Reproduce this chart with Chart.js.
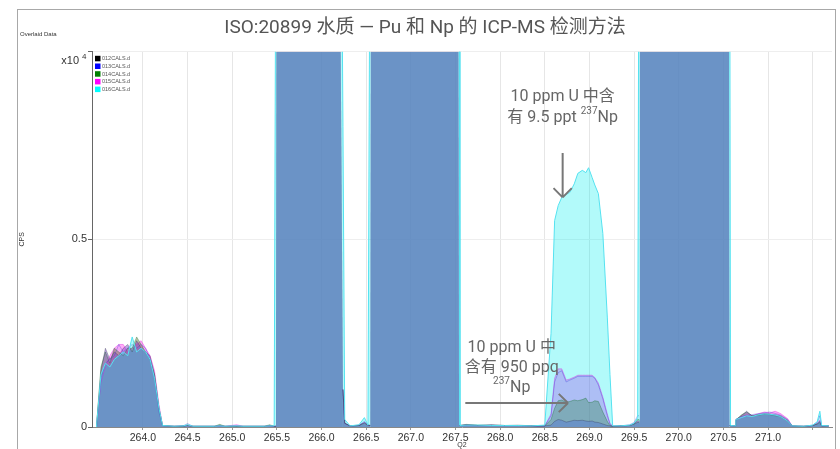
<!DOCTYPE html>
<html>
<head>
<meta charset="utf-8">
<script src="https://cdn.jsdelivr.net/npm/chart.js@4.4.1/dist/chart.umd.min.js"></script>
<style>
  html, body { margin: 0; padding: 0; background: #fff; }
</style>
</head>
<body>
<canvas id="chart" width="840" height="449"></canvas>
<script>
// Overlaid spectra, Q2 mass axis vs CPS (x10^4)
const OFF = 1.5; // U peaks run off the top of the scale

const q2 = [263.48, 263.53, 263.58, 263.63, 263.68, 263.73, 263.78, 263.83, 263.88, 263.93,
  263.98, 264.03, 264.08, 264.13, 264.18, 264.22, 264.35, 264.45, 264.50, 264.56,
  264.80, 264.86, 264.92, 265.05, 265.12, 265.36, 265.42, 265.47, 265.49, 265.50,
  266.20, 266.22, 266.24, 266.26, 266.32, 266.42, 266.48, 266.52, 266.545, 266.555,
  267.53, 267.54, 267.55, 267.62, 267.75, 267.90, 268.05, 268.20, 268.35, 268.50,
  268.57, 268.61, 268.65, 268.69, 268.74, 268.78, 268.83, 268.87, 268.92, 268.96,
  268.99, 269.03, 269.06, 269.10, 269.15, 269.20, 269.23, 269.26, 269.35, 269.45,
  269.50, 269.54, 269.555, 269.565, 270.56, 270.57, 270.58, 270.63, 270.64, 270.70,
  270.76, 270.82, 270.90, 270.96, 271.02, 271.08, 271.14, 271.22, 271.27, 271.40,
  271.50, 271.55, 271.58, 271.60, 271.68];

const cals012 = [0, .15, .21, .18, .20, .19, .21, .22, .20, .23,
  .21, .20, .19, .14, .05, .004, .002, .003, .004, .002,
  .002, .004, .002, .002, .002, .002, .004, .002, .002, OFF,
  OFF, .82, .10, .01, .003, .004, .012, .005, .004, OFF,
  OFF, .005, .004, .006, .004, .006, .004, .005, .003, .003,
  .005, .015, .02, .018, .013, .015, .018, .017, .018, .016,
  .015, .016, .013, .012, .008, .004, .003, .002, .003, .004,
  .008, .012, .012, OFF, OFF, .004, .004, .003, .02, .03,
  .042, .03, .034, .036, .035, .033, .03, .018, .003, .002,
  .004, .008, .015, .003, .003];

const cals013 = [0, .13, .17, .18, .19, .22, .20, .21, .22, .21,
  .22, .21, .18, .13, .04, .004, .002, .003, .009, .002,
  .002, .003, .002, .003, .002, .002, .003, .002, .002, OFF,
  OFF, .82, .10, .01, .003, .004, .015, .005, .004, OFF,
  OFF, .005, .004, .005, .004, .005, .004, .004, .003, .003,
  .03, .12, .145, .15, .12, .125, .13, .135, .135, .135,
  .135, .135, .13, .112, .075, .03, .008, .002, .003, .006,
  .012, .03, .03, OFF, OFF, .004, .004, .003, .02, .028,
  .03, .033, .036, .038, .04, .036, .032, .02, .003, .002,
  .005, .012, .03, .004, .003];

const cals014 = [0, .16, .20, .17, .21, .20, .19, .21, .21, .24,
  .22, .20, .18, .14, .05, .004, .002, .002, .005, .002,
  .002, .007, .002, .002, .002, .002, .006, .002, .002, OFF,
  OFF, .82, .10, .01, .003, .004, .01, .005, .004, OFF,
  OFF, .005, .004, .007, .005, .005, .004, .004, .003, .003,
  .02, .05, .07, .072, .066, .068, .072, .07, .073, .077,
  .065, .066, .07, .068, .04, .015, .004, .002, .003, .004,
  .008, .02, .02, OFF, OFF, .004, .004, .003, .018, .032,
  .04, .03, .032, .034, .033, .03, .028, .016, .003, .002,
  .004, .008, .012, .003, .003];

const cals015 = [0, .12, .16, .19, .21, .22, .22, .20, .21, .22,
  .23, .21, .19, .15, .06, .004, .002, .003, .004, .002,
  .002, .003, .002, .006, .002, .002, .003, .002, .002, OFF,
  OFF, .82, .10, .01, .003, .005, .012, .005, .004, OFF,
  OFF, .005, .004, .006, .004, .004, .004, .004, .003, .003,
  .035, .13, .155, .155, .125, .128, .133, .138, .138, .138,
  .138, .138, .132, .117, .08, .035, .01, .002, .003, .004,
  .01, .015, .015, OFF, OFF, .004, .004, .003, .02, .026,
  .032, .03, .036, .04, .038, .042, .036, .022, .003, .002,
  .004, .01, .018, .003, .003];

const cals016 = [0, .14, .17, .16, .18, .19, .20, .19, .24, .20,
  .21, .20, .18, .13, .05, .004, .002, .003, .006, .002,
  .002, .003, .002, .003, .002, .002, .003, .003, OFF, OFF,
  OFF, OFF, .80, .02, .003, .006, .025, .005, OFF, OFF,
  OFF, OFF, .004, .005, .005, .004, .004, .004, .003, .005,
  .25, .55, .59, .612, .62, .625, .648, .676, .684, .678,
  .691, .665, .645, .622, .516, .293, .14, .003, .003, .005,
  .01, .025, OFF, OFF, OFF, OFF, .004, .003, .02, .025,
  .03, .028, .033, .035, .034, .032, .028, .016, .003, .002,
  .005, .014, .042, .004, .003];

const seriesNames = ['012CALS.d', '013CALS.d', '014CALS.d', '015CALS.d', '016CALS.d'];
const seriesValues = [cals012, cals013, cals014, cals015, cals016];

// styling
const legendColors = ['#000000', '#0000ff', '#008000', '#ff00ff', '#00ffff'];
const lineColors = ['rgba(40,40,70,0.3)', 'rgba(60,60,220,0.35)', 'rgba(20,110,40,0.35)', 'rgba(220,0,220,0.35)', '#55e2f0'];
const fillColors = ['rgba(127,76,199,0.5)', 'rgba(0,0,255,0.03)', 'rgba(84,103,38,0.4)', 'rgba(255,0,230,0.32)', 'rgba(0,240,240,0.3)'];
const drawOrder = [1, 3, 2, 4, 0];

const FONT = 'Roboto, "Noto Sans CJK SC", sans-serif';
const AXFONT = '"Liberation Sans", Arial, sans-serif';

// annotations (data coordinates)
const notes = [
  { x: 268.70, y: [0.880, 0.824], lines: [
    [{ text: '10 ppm U 中含', size: 16 }],
    [{ text: '有 9.5 ppt ', size: 16 }, { text: '237', size: 10, dy: -6 }, { text: 'Np', size: 16 }]
  ] },
  { x: 268.13, y: [0.210, 0.158, 0.104], lines: [
    [{ text: '10 ppm U 中', size: 16 }],
    [{ text: '含有 950 ppq', size: 16 }],
    [{ text: '237', size: 10, dy: -6 }, { text: 'Np', size: 16 }]
  ] }
];
const arrows = [
  { from: [268.70, 0.73], to: [268.70, 0.612] },
  { from: [267.61, 0.064], to: [268.76, 0.064] }
];

function drawRich(ctx, parts, cx, cy) {
  let total = 0;
  const widths = parts.map(p => {
    ctx.font = p.size + 'px ' + FONT;
    const w = ctx.measureText(p.text).width;
    total += w;
    return w;
  });
  let x = cx - total / 2;
  ctx.textAlign = 'left';
  ctx.textBaseline = 'middle';
  parts.forEach((p, i) => {
    ctx.font = p.size + 'px ' + FONT;
    ctx.fillText(p.text, x, cy + (p.dy || 0));
    x += widths[i];
  });
}

const decor = {
  id: 'decor',
  beforeDraw(chart) {
    const ctx = chart.ctx;
    ctx.save();
    ctx.strokeStyle = '#a8a8a8';
    ctx.lineWidth = 1;
    ctx.strokeRect(17.5, 9.5, 818, 470);
    ctx.restore();
  },
  afterDraw(chart) {
    const ctx = chart.ctx;
    const xs = chart.scales.x, ys = chart.scales.y;
    const area = chart.chartArea;
    ctx.save();

    // header note
    ctx.fillStyle = '#333';
    ctx.font = '6px ' + AXFONT;
    ctx.textAlign = 'left';
    ctx.textBaseline = 'middle';
    ctx.fillText('Overlaid Data', 20, 34);

    // exponent for y axis
    ctx.font = '11px ' + AXFONT;
    ctx.textAlign = 'right';
    ctx.fillText('x10', 79, 61);
    ctx.font = '8px ' + AXFONT;
    ctx.textAlign = 'left';
    ctx.fillText('4', 82, 57);

    // legend box in the plot corner
    chart.data.datasets.forEach((ds, i) => {
      const y = area.top + 4 + i * 7.7;
      ctx.fillStyle = legendColors[i];
      ctx.fillRect(area.left + 3, y, 5.5, 5.5);
      ctx.fillStyle = '#555';
      ctx.font = '5.5px ' + AXFONT;
      ctx.textBaseline = 'middle';
      ctx.fillText(ds.label, area.left + 10, y + 3);
    });

    // annotations
    ctx.fillStyle = '#666';
    notes.forEach(n => {
      const cx = xs.getPixelForValue(n.x);
      n.lines.forEach((parts, k) => drawRich(ctx, parts, cx, ys.getPixelForValue(n.y[k])));
    });

    ctx.strokeStyle = '#777';
    ctx.lineWidth = 2;
    arrows.forEach(a => {
      const fx = xs.getPixelForValue(a.from[0]), fy = ys.getPixelForValue(a.from[1]);
      const tx = xs.getPixelForValue(a.to[0]), ty = ys.getPixelForValue(a.to[1]);
      const ang = Math.atan2(ty - fy, tx - fx);
      ctx.beginPath();
      ctx.moveTo(fx, fy);
      ctx.lineTo(tx, ty);
      [-1, 1].forEach(s => {
        const w = ang + Math.PI + s * 0.78;
        ctx.moveTo(tx, ty);
        ctx.lineTo(tx + 13 * Math.cos(w), ty + 13 * Math.sin(w));
      });
      ctx.stroke();
    });
    ctx.restore();
  }
};

// hide the other traces' outlines on the steep off-scale U edges so the cyan edge shows
const hideSteep = c => (c.p0.parsed.y >= 0.8 || c.p1.parsed.y >= 0.8) ? 'rgba(0,0,0,0)' : undefined;

const datasets = seriesNames.map((name, i) => ({
  label: name,
  data: q2.map((x, j) => ({ x: x, y: seriesValues[i][j] })),
  borderColor: lineColors[i],
  backgroundColor: fillColors[i],
  borderWidth: 1,
  pointRadius: 0,
  tension: 0,
  fill: 'origin',
  order: drawOrder[i],
  segment: i === 4 ? {} : { borderColor: hideSteep }
}));

new Chart(document.getElementById('chart'), {
  type: 'line',
  data: { datasets: datasets },
  plugins: [decor],
  options: {
    responsive: false,
    animation: false,
    layout: { padding: { left: 18, right: 8, top: 0, bottom: 0 } },
    plugins: {
      legend: { display: false },
      tooltip: { enabled: false },
      filler: { drawTime: 'beforeDatasetsDraw' },
      title: {
        display: true,
        text: 'ISO:20899 水质 — Pu 和 Np 的 ICP-MS 检测方法',
        color: '#555',
        font: { size: 19, family: FONT, weight: 'normal' },
        padding: { top: 17, bottom: 12 }
      }
    },
    scales: {
      x: {
        type: 'linear',
        min: 263.43,
        max: 271.716,
        afterBuildTicks(scale) {
          const t = [];
          for (let k = 528; k <= 543; k++) t.push({ value: k / 2 });
          scale.ticks = t;
        },
        afterFit(scale) { scale.height = 22; },
        ticks: {
          autoSkip: false,
          maxRotation: 0,
          padding: 2,
          color: '#333',
          font: { size: 10.5, family: AXFONT },
          callback: v => (v > 271.2 ? '' : v.toFixed(1))
        },
        grid: { color: '#e6e6e6', tickLength: 3, tickColor: '#999' },
        border: { color: '#888' },
        title: { display: true, text: 'Q2', color: '#333', font: { size: 7, family: AXFONT }, padding: 0 }
      },
      y: {
        min: 0,
        max: 1,
        afterFit(scale) { scale.width = 74; },
        ticks: {
          stepSize: 0.5,
          padding: 1,
          color: '#333',
          font: { size: 11, family: AXFONT },
          callback: v => (v === 1 ? '' : String(v))
        },
        grid: { color: '#eeeeee', tickLength: 4, tickColor: '#666' },
        border: { color: '#666' },
        title: { display: true, text: 'CPS', color: '#333', font: { size: 7, family: AXFONT }, padding: 0 }
      }
    }
  }
});
</script>
</body>
</html>
